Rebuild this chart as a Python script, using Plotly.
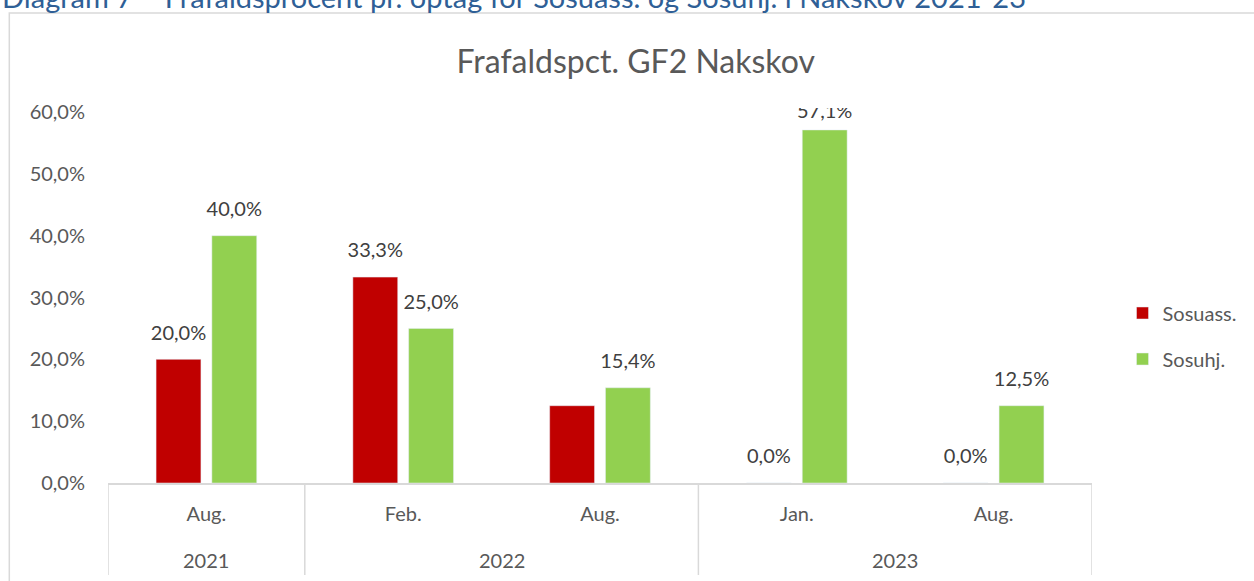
import plotly.graph_objects as go

# Data
YEARS = ["2021", "2022", "2022", "2023", "2023"]
MONTHS = ["Aug.", "Feb.", "Aug.", "Jan.", "Aug."]
SOSUASS = [20.0, 33.3, 12.5, 0.0, 0.0]
SOSUHJ = [40.0, 25.0, 15.4, 57.1, 12.5]
SOSUASS_SHOW_LABEL = [True, True, False, True, True]
Y_TICKS = [0, 10, 20, 30, 40, 50, 60]

RED = "#C00000"
GREEN = "#92D050"
LINE_GREY = "#D9D9D9"
TEXT_GREY = "#595959"
LABEL_GREY = "#404040"
FONT = "Lato, 'Open Sans', sans-serif"
FS = 20

x_idx = list(range(len(MONTHS)))

fig = go.Figure()

series = [
    ("Sosuass.", SOSUASS, RED, SOSUASS_SHOW_LABEL, "legend"),
    ("Sosuhj.", SOSUHJ, GREEN, [True] * len(SOSUHJ), "legend2"),
]

for name, vals, color, show, leg in series:
    fig.add_trace(go.Bar(
        x=x_idx,
        y=[v / 100 for v in vals],
        name=name,
        marker_color=color,
        legend=leg,
        hoverinfo="skip",
    ))

# Data labels as grouped text traces so they sit a bit higher above the bars;
# labels near the top of the axis get pushed down (like Excel does) via a smaller pad
for name, vals, color, show, leg in series:
    fig.add_trace(go.Scatter(
        x=x_idx,
        y=[v / 100 for v in vals],
        mode="markers+text",
        marker=dict(size=[10 if v > 55 else 22 for v in vals],
                    color="rgba(0,0,0,0)", line=dict(width=0)),
        texttemplate=["%{y:.1%}" if s else "" for s in show],
        textposition="top center",
        textfont=dict(size=FS, color=LABEL_GREY, family=FONT),
        cliponaxis=True,
        showlegend=False,
        hoverinfo="skip",
    ))

# Year groups: labels under the months and divider lines between groups
groups = []
for i, yr in enumerate(YEARS):
    if groups and groups[-1][0] == yr:
        groups[-1][2] = i
    else:
        groups.append([yr, i, i])

bottom = (483 - 575) / 375
for yr, i0, i1 in groups:
    fig.add_annotation(text=yr, x=(i0 + i1) / 2, xref="x", y=(483 - 560) / 375, yref="paper",
                       showarrow=False, yanchor="middle",
                       font=dict(size=FS, color=TEXT_GREY, family=FONT))
for b in [groups[0][1] - 0.5] + [g[2] + 0.5 for g in groups]:
    fig.add_shape(type="line", xref="x", yref="paper", x0=b, x1=b, y0=0, y1=bottom,
                  line=dict(color=LINE_GREY, width=1.5))

# Outer chart frame (cut off at the right and bottom like the reference)
fig.add_shape(type="rect", xref="paper", yref="paper",
              x0=-0.1003, x1=1.3, y0=-0.4, y1=1.2533,
              line=dict(color=LINE_GREY, width=1.5), layer="below")

# Document caption above the chart, cut off by the top edge
fig.add_annotation(
    text="Diagram 7 – Frafaldsprocent pr. optag for Sosuass. og Sosuhj. i Nakskov 2021-23",
    xref="paper", yref="paper", x=-0.1094, y=1.296,
    xanchor="left", yanchor="middle", showarrow=False,
    font=dict(size=29, color="#2F5F96", family=FONT),
)

fig.update_layout(
    width=1254, height=581,
    margin=dict(l=108, r=159, t=108, b=98),
    paper_bgcolor="white", plot_bgcolor="white",
    separators=",.",
    font=dict(family=FONT, color=TEXT_GREY, size=FS),
    title=dict(text="Frafaldspct. GF2 Nakskov", x=0.507, y=1 - 62 / 581,
               xanchor="center", yanchor="middle",
               font=dict(size=32, color=TEXT_GREY, family=FONT)),
    barmode="group",
    bargap=0.433,
    bargroupgap=0.196,
    scattermode="group",
    scattergap=0.433,
    showlegend=True,
    legend=dict(x=1.031, y=(483 - 313) / 375, xanchor="left", yanchor="middle",
                font=dict(size=FS, color=TEXT_GREY), bgcolor="rgba(0,0,0,0)"),
    legend2=dict(x=1.031, y=(483 - 359) / 375, xanchor="left", yanchor="middle",
                 font=dict(size=FS, color=TEXT_GREY), bgcolor="rgba(0,0,0,0)"),
    xaxis=dict(
        range=[-0.5, len(MONTHS) - 0.5],
        tickvals=x_idx, ticktext=MONTHS,
        showline=True, linecolor=LINE_GREY, linewidth=1.5,
        showgrid=False, zeroline=False, ticks="",
        ticklabelstandoff=12,
        tickfont=dict(size=FS, color=TEXT_GREY),
        automargin=False, fixedrange=True,
    ),
    yaxis=dict(
        range=[0, 0.6065],
        tickvals=[t / 100 for t in Y_TICKS],
        tickformat=".1%",
        showgrid=False, zeroline=False, showline=False,
        ticklabelstandoff=22,
        tickfont=dict(size=FS, color=TEXT_GREY),
        automargin=False, fixedrange=True,
    ),
)

fig.write_html("out.html", config={"displayModeBar": False},
               post_script="document.body.style.margin='0px';")
